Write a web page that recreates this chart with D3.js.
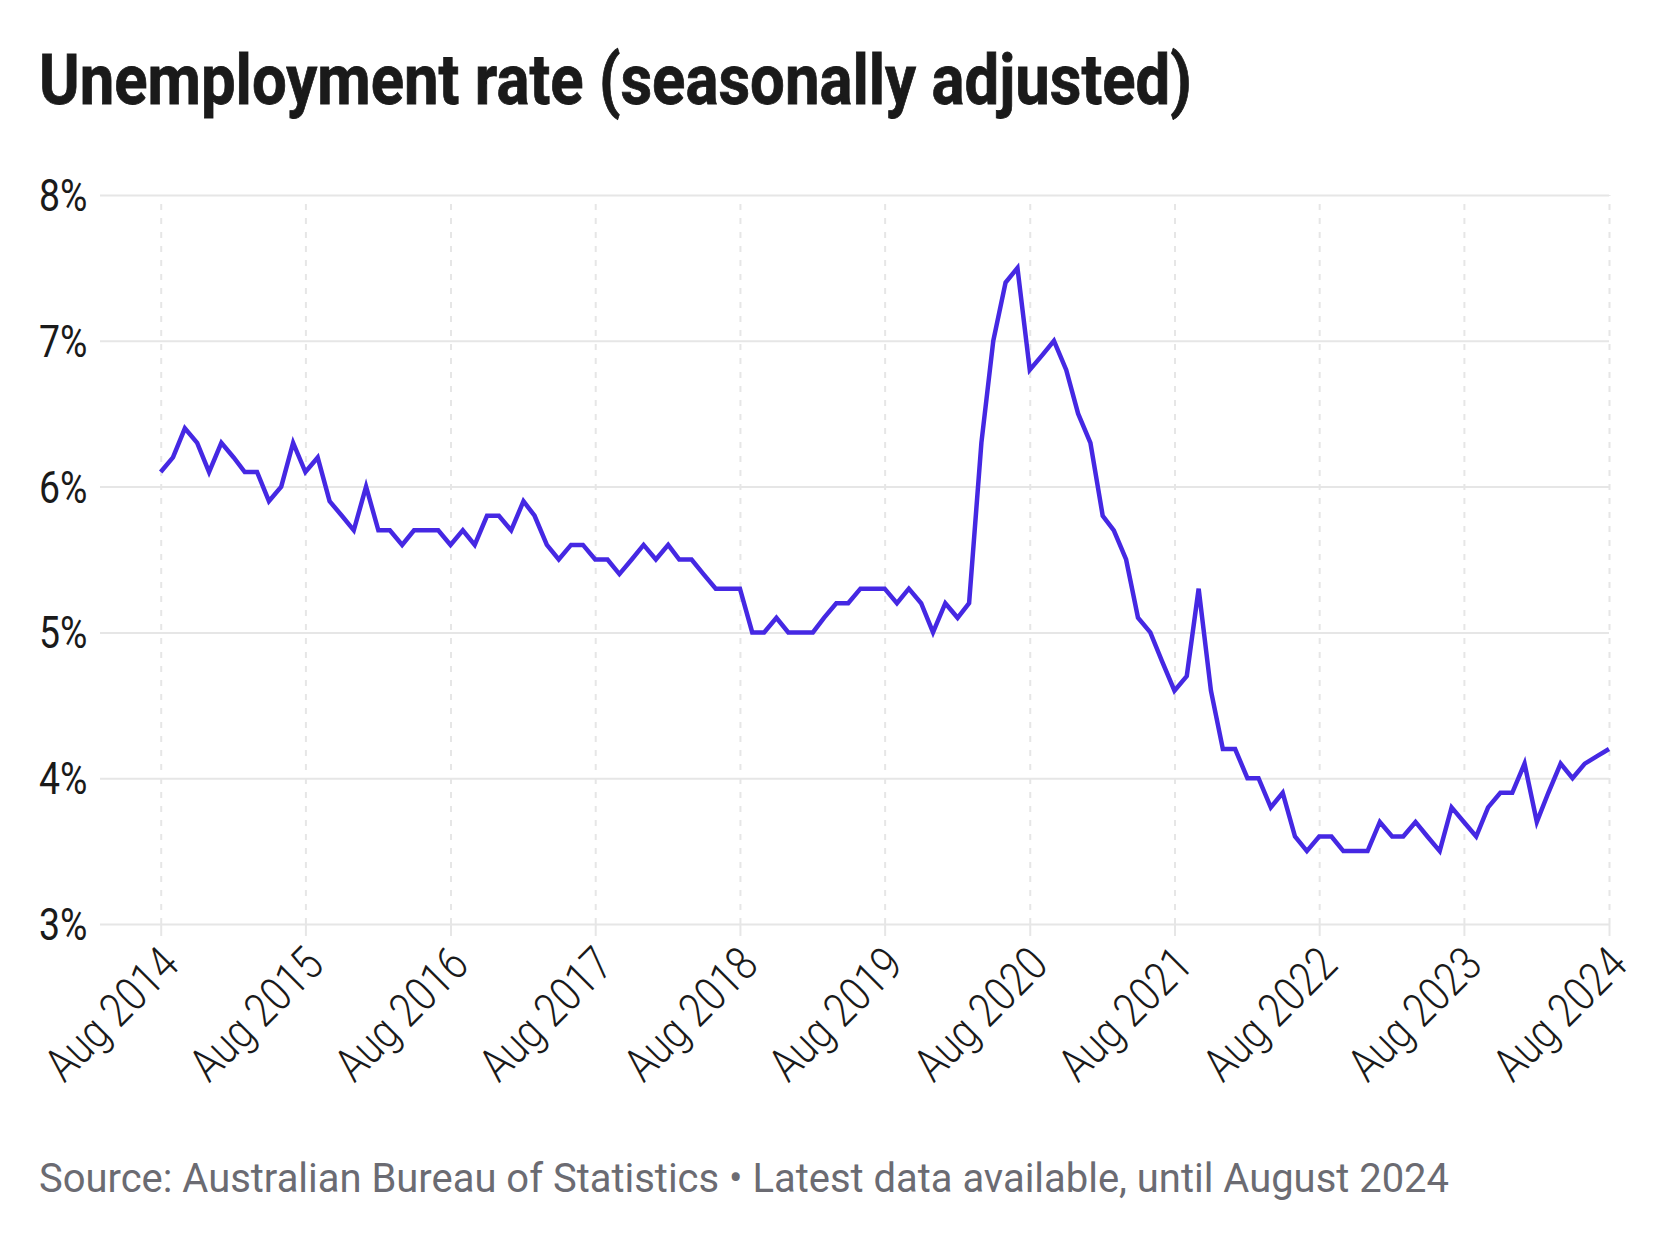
<!DOCTYPE html>
<html>
<head>
<meta charset="utf-8">
<script src="https://cdn.jsdelivr.net/npm/d3@7"></script>
<style>
    body { margin: 0; background: #fff; }
    text { font-family: Roboto, "Noto Sans", sans-serif; }
</style>
</head>
<body>
<script>
// Monthly unemployment rate (%), Aug 2014 .. Aug 2024
var startMonth = "2014-08";
var rates = [
    6.1, 6.2, 6.4, 6.3, 6.1,                                      // 2014
    6.3, 6.2, 6.1, 6.1, 5.9, 6.0, 6.3, 6.1, 6.2, 5.9, 5.8, 5.7,   // 2015
    6.0, 5.7, 5.7, 5.6, 5.7, 5.7, 5.7, 5.6, 5.7, 5.6, 5.8, 5.8,   // 2016
    5.7, 5.9, 5.8, 5.6, 5.5, 5.6, 5.6, 5.5, 5.5, 5.4, 5.5, 5.6,   // 2017
    5.5, 5.6, 5.5, 5.5, 5.4, 5.3, 5.3, 5.3, 5.0, 5.0, 5.1, 5.0,   // 2018
    5.0, 5.0, 5.1, 5.2, 5.2, 5.3, 5.3, 5.3, 5.2, 5.3, 5.2, 5.0,   // 2019
    5.2, 5.1, 5.2, 6.3, 7.0, 7.4, 7.5, 6.8, 6.9, 7.0, 6.8, 6.5,   // 2020
    6.3, 5.8, 5.7, 5.5, 5.1, 5.0, 4.8, 4.6, 4.7, 5.3, 4.6, 4.2,   // 2021
    4.2, 4.0, 4.0, 3.8, 3.9, 3.6, 3.5, 3.6, 3.6, 3.5, 3.5, 3.5,   // 2022
    3.7, 3.6, 3.6, 3.7, 3.6, 3.5, 3.8, 3.7, 3.6, 3.8, 3.9, 3.9,   // 2023
    4.1, 3.7, 3.9, 4.1, 4.0, 4.1, 4.15, 4.2                       // 2024
];
var yTicks = [3, 4, 5, 6, 7, 8];
var xTickLabels = ["Aug 2014", "Aug 2015", "Aug 2016", "Aug 2017",
    "Aug 2018", "Aug 2019", "Aug 2020", "Aug 2021", "Aug 2022",
    "Aug 2023", "Aug 2024"];

var titleText = "Unemployment rate (seasonally adjusted)";
var sourceText = "Source: Australian Bureau of Statistics \u2022 " +
    "Latest data available, until August 2024";

var W = 1680, H = 1244;
var gridLeft = 100, plotLeft = 160.7, plotRight = 1609,
    plotTop = 195, plotBottom = 924;
var lineColor = "#4528e3", gridColor = "#e6e6e6";

var parseMonth = d3.timeParse("%Y-%m");
var parseLabel = d3.timeParse("%b %Y");
var start = parseMonth(startMonth);
var data = rates.map(function(v, i) {
    return {date: d3.timeMonth.offset(start, i), value: v};
});
var xTicks = xTickLabels.map(function(s) { return parseLabel(s); });

var svg = d3.select("body").append("svg")
    .attr("width", W)
    .attr("height", H);

svg.append("rect").attr("width", W).attr("height", H).attr("fill", "#fff");

var x = d3.scaleTime()
    .domain([data[0].date, data[data.length - 1].date])
    .range([plotLeft, plotRight]);
var y = d3.scaleLinear().domain([3, 8]).range([plotBottom, plotTop]);

// squeeze Roboto so it looks like the condensed face in the original
function condense(sel, factor) {
    sel.each(function() {
        var n = this.getComputedTextLength();
        d3.select(this)
            .attr("textLength", n * factor)
            .attr("lengthAdjust", "spacingAndGlyphs");
    });
}

// title
svg.append("text")
    .attr("x", 39)
    .attr("y", 104)
    .attr("font-size", 71)
    .attr("font-weight", 700)
    .attr("fill", "#1a1a1a")
    .attr("stroke", "#1a1a1a")
    .attr("stroke-width", 0.8)
    .attr("textLength", 1153)
    .attr("lengthAdjust", "spacingAndGlyphs")
    .text(titleText);

// vertical dashed grid, plus solid tick under the baseline
var xAxis = d3.axisBottom(x)
    .tickValues(xTicks)
    .tickSize(12)
    .tickFormat(function(d, i) { return xTickLabels[i]; });

var gx = svg.append("g")
    .attr("transform", "translate(0," + plotBottom + ")")
    .call(xAxis);
gx.select(".domain").remove();
gx.selectAll(".tick line")
    .attr("stroke", gridColor)
    .attr("stroke-width", 2);
gx.selectAll(".tick").append("line")
    .attr("y1", 0)
    .attr("y2", plotTop - plotBottom)
    .attr("stroke", gridColor)
    .attr("stroke-width", 2)
    .attr("stroke-dasharray", "6,8");
gx.selectAll(".tick text")
    .attr("font-size", 47)
    .attr("font-weight", 300)
    .attr("fill", "#1a1a1a")
    .attr("y", 0)
    .attr("dy", 0)
    .attr("text-anchor", "end")
    .attr("transform", "translate(20,43) rotate(-45)")
    .call(condense, 0.84);

// horizontal grid and y labels
var yAxis = d3.axisLeft(y)
    .tickValues(yTicks)
    .tickSize(-(plotRight - gridLeft))
    .tickFormat(function(d) { return d + "%"; });

var gy = svg.append("g")
    .attr("transform", "translate(" + gridLeft + ",0)")
    .call(yAxis);
gy.select(".domain").remove();
gy.selectAll(".tick line")
    .attr("stroke", gridColor)
    .attr("stroke-width", 2);
gy.selectAll(".tick text")
    .attr("font-size", 44)
    .attr("fill", "#1a1a1a")
    .attr("text-anchor", "start")
    .attr("x", 39 - gridLeft)
    .attr("dy", "0.35em")
    .call(condense, 0.85);

// the line
var line = d3.line()
    .x(function(d) { return x(d.date); })
    .y(function(d) { return y(d.value); });

svg.append("path")
    .datum(data)
    .attr("fill", "none")
    .attr("stroke", lineColor)
    .attr("stroke-width", 4.5)
    .attr("stroke-linejoin", "miter")
    .attr("d", line);

// footer
svg.append("text")
    .attr("x", 39)
    .attr("y", 1192)
    .attr("font-size", 41)
    .attr("fill", "#6b6b72")
    .attr("textLength", 1410)
    .attr("lengthAdjust", "spacingAndGlyphs")
    .text(sourceText);
</script>
</body>
</html>
